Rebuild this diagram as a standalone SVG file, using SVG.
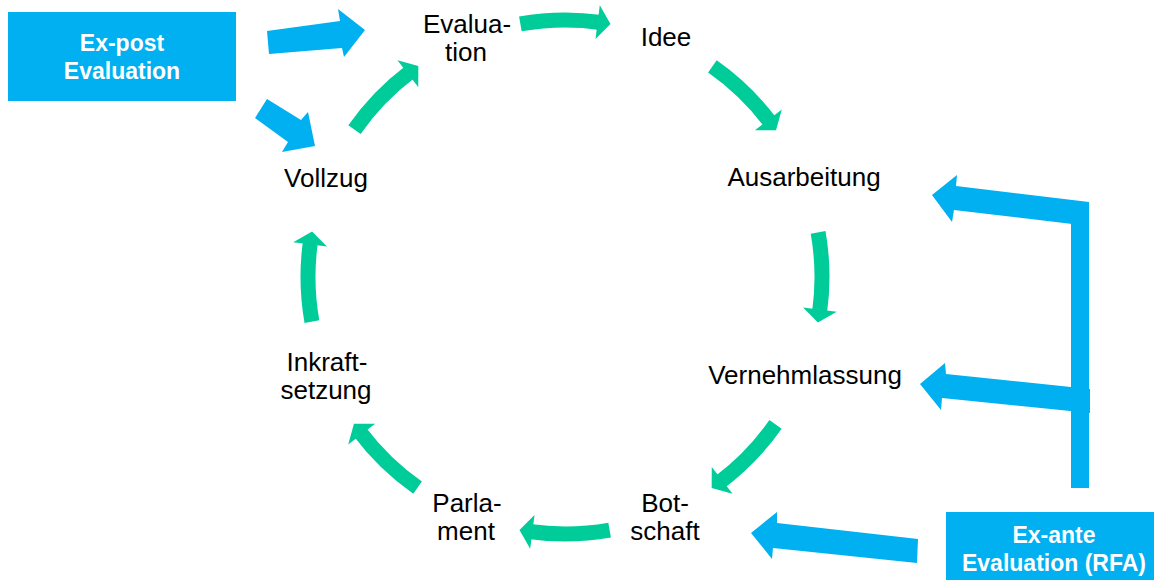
<svg xmlns="http://www.w3.org/2000/svg" xmlns:xlink="http://www.w3.org/1999/xlink" width="1154" height="580" viewBox="0 0 1154 580">
<style>
.lbl{font-family:"Liberation Sans",Arial,sans-serif;font-size:26px;fill:#000;text-anchor:middle}
.box{fill:#00B0F0}
.btxt{font-family:"Liberation Sans",Arial,sans-serif;font-size:23px;font-weight:bold;fill:#fff;text-anchor:middle}
.blue{fill:#00B0F0}
.gshaft{fill:none;stroke:#00CC99;stroke-width:15}
.ghead{fill:#00CC99}
</style>
<defs>
<g id="ga">
<path class="gshaft" d="M 520.37 23.90 A 257 257 0 0 1 600.77 22.50"/>
<polygon class="ghead" points="599.81,5.22 610.51,24.06 595.49,38.95"/>
</g>
</defs>
<rect width="1154" height="580" fill="#fff"/>
<g id="connectors">
<use xlink:href="#ga"/>
<use xlink:href="#ga" transform="rotate(45 565 277)"/>
<use xlink:href="#ga" transform="rotate(90 565 277)"/>
<use xlink:href="#ga" transform="rotate(135 565 277)"/>
<use xlink:href="#ga" transform="rotate(180 565 277)"/>
<use xlink:href="#ga" transform="rotate(225 565 277)"/>
<use xlink:href="#ga" transform="rotate(270 565 277)"/>
<use xlink:href="#ga" transform="rotate(315 565 277)"/>
<polygon class="blue" points="267,31 340,21 338,9 365,30 344,57 342,48 269,54"/>
<polygon class="blue" points="267,99 301,120 308,112 315,146 282,152 288,142 255,118"/>
<rect class="blue" x="1071" y="203" width="18" height="285"/>
<polygon class="blue" points="932,195 957,175 956,186 1089,202 1089,226 954,210 952,222"/>
<polygon class="blue" points="920,384 945,363 946,374 1090,389 1090,413 942,398 941,410"/>
<polygon class="blue" points="751,533 777,512 777,523 918,539 917,563 773,548 772,559"/>
</g>
<g id="expost">
<rect class="box" x="8" y="12" width="228" height="89"/>
<text class="btxt" x="122" y="51">Ex-post</text>
<text class="btxt" x="122" y="79">Evaluation</text>
</g>
<g id="exante">
<rect class="box" x="946" y="512" width="208" height="68"/>
<text class="btxt" x="1054" y="543">Ex-ante</text>
<text class="btxt" x="1054" y="571">Evaluation (RFA)</text>
</g>
<g id="evaluation">
<text class="lbl" x="467" y="33">Evalua-</text>
<text class="lbl" x="466" y="61">tion</text>
</g>
<g id="idee"><text class="lbl" x="666" y="46">Idee</text></g>
<g id="ausarbeitung"><text class="lbl" x="804" y="186">Ausarbeitung</text></g>
<g id="vernehmlassung"><text class="lbl" x="805" y="384">Vernehmlassung</text></g>
<g id="botschaft">
<text class="lbl" x="665" y="512">Bot-</text>
<text class="lbl" x="665" y="540">schaft</text>
</g>
<g id="parlament">
<text class="lbl" x="467" y="512">Parla-</text>
<text class="lbl" x="466" y="540">ment</text>
</g>
<g id="inkraftsetzung">
<text class="lbl" x="327" y="371">Inkraft-</text>
<text class="lbl" x="326" y="399">setzung</text>
</g>
<g id="vollzug"><text class="lbl" x="326" y="187">Vollzug</text></g>
</svg>
